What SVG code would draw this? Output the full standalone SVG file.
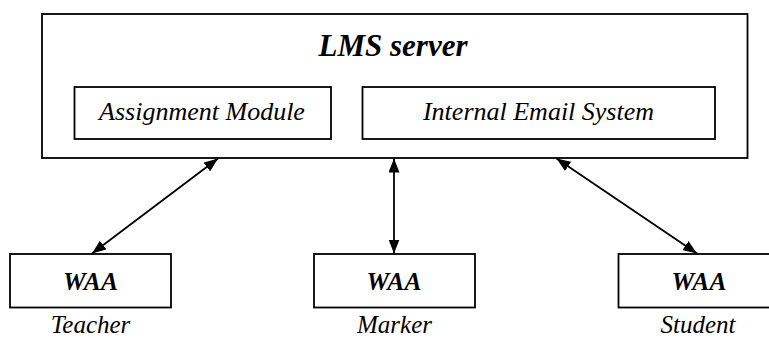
<svg xmlns="http://www.w3.org/2000/svg" width="769" height="338" viewBox="0 0 769 338">
<style>
.box{fill:#fff;stroke:#000;stroke-width:1.8}
.t{font-family:'Liberation Serif','Tinos','Times New Roman','DejaVu Serif',serif;font-style:italic;fill:#000;text-anchor:middle}
.b{font-weight:bold}
.c{stroke:#000;stroke-width:1.8;fill:none;marker-start:url(#ah);marker-end:url(#ah)}
</style>
<defs>
<marker id="ah" viewBox="0 0 14 11" refX="14" refY="5.5" markerWidth="14" markerHeight="11" markerUnits="userSpaceOnUse" orient="auto-start-reverse">
<path d="M0,0 L14,5.5 L0,11 Z" fill="#000"/>
</marker>
</defs>
<g id="lms-server">
<rect class="box" x="42" y="14" width="705.5" height="144"/>
<text class="t b" x="393" y="56" font-size="31" font-family="Liberation Serif, serif">LMS server</text>
</g>
<g id="assignment-module">
<rect class="box" x="74.5" y="87" width="256.5" height="52"/>
<text class="t" x="202" y="120" font-size="26" font-family="Liberation Serif, serif">Assignment Module</text>
</g>
<g id="internal-email">
<rect class="box" x="362.5" y="87" width="352.5" height="52"/>
<text class="t" x="538.5" y="120" font-size="26" font-family="Liberation Serif, serif">Internal Email System</text>
</g>
<g id="teacher">
<rect class="box" x="10" y="254" width="161" height="53.5"/>
<text class="t b" x="90.5" y="289.5" font-size="25.5" font-family="Liberation Serif, serif">WAA</text>
<text class="t" x="90.5" y="333" font-size="25" font-family="Liberation Serif, serif">Teacher</text>
</g>
<g id="marker">
<rect class="box" x="314" y="254" width="161" height="53.5"/>
<text class="t b" x="394" y="289.5" font-size="25.5" font-family="Liberation Serif, serif">WAA</text>
<text class="t" x="394.5" y="333" font-size="25" font-family="Liberation Serif, serif">Marker</text>
</g>
<g id="student">
<rect class="box" x="618.5" y="254" width="162" height="53.5"/>
<text class="t b" x="699" y="289.5" font-size="25.5" font-family="Liberation Serif, serif">WAA</text>
<text class="t" x="698" y="333" font-size="25" font-family="Liberation Serif, serif">Student</text>
</g>
<g id="connectors">
<line class="c" x1="218" y1="158.5" x2="92" y2="253.5"/>
<line class="c" x1="394" y1="158.5" x2="394" y2="253.5"/>
<line class="c" x1="556.5" y1="158.5" x2="697" y2="253.5"/>
</g>
</svg>
